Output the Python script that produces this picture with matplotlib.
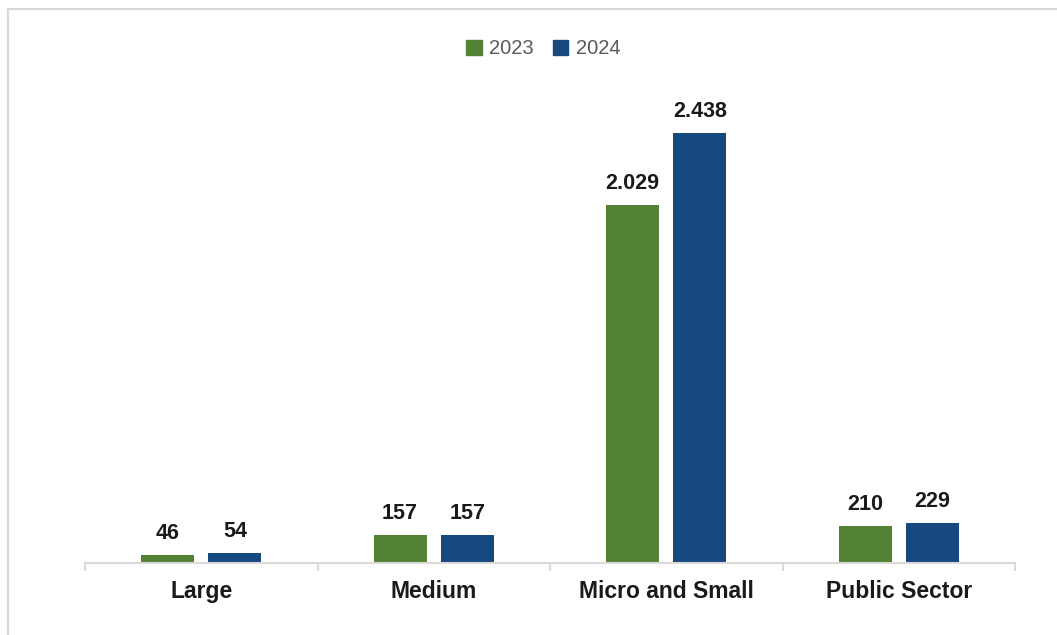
import matplotlib.pyplot as plt
from matplotlib.lines import Line2D
from matplotlib.patches import Patch
import numpy as np

plt.rcParams['font.family'] = ['Liberation Sans', 'DejaVu Sans']

categories = ["Large", "Medium", "Micro and Small", "Public Sector"]
years = ["2023", "2024"]
values_2023 = [46, 157, 2029, 210]
values_2024 = [54, 157, 2438, 229]

colors = ["#548235", "#16497E"]


def fmt(v):
    # thousands separator is a dot in the original
    return f"{v:,}".replace(",", ".")


W, H = 1057, 635
fig = plt.figure(figsize=(W / 100, H / 100), dpi=100)

# light frame round the chart (left and top edges visible)
fig.add_artist(Line2D([7.5 / W, 7.5 / W], [0, 1 - 9 / H], color="#d9d9d9", lw=1.5,
                      transform=fig.transFigure))
fig.add_artist(Line2D([7.5 / W, 1], [1 - 9 / H, 1 - 9 / H], color="#d9d9d9", lw=1.5,
                      transform=fig.transFigure))

ax = fig.add_axes([85 / W, (H - 563) / H, 930 / W, 476 / H])

x = np.arange(len(categories))
bw = 0.228
off = 0.145
b1 = ax.bar(x - off, values_2023, bw, color=colors[0], label=years[0])
b2 = ax.bar(x + off, values_2024, bw, color=colors[1], label=years[1])

for bars, vals in ((b1, values_2023), (b2, values_2024)):
    for bar, v in zip(bars, vals):
        ax.annotate(fmt(v), (bar.get_x() + bar.get_width() / 2, bar.get_height()),
                    xytext=(0, 8), textcoords="offset points", ha="center", va="bottom",
                    fontsize=15.5, fontweight="bold", color="#1a1a1a")

ax.set_xlim(-0.5, len(categories) - 0.5)
ax.set_ylim(0, 2700)

for s in ["top", "right", "left"]:
    ax.spines[s].set_visible(False)
ax.spines["bottom"].set_color("#d9d9d9")
ax.spines["bottom"].set_linewidth(1.5)
ax.set_yticks([])

ax.set_xticks(x)
ax.set_xticklabels(categories, fontsize=16.5, fontweight="bold", color="#1a1a1a")
ax.tick_params(axis="x", which="major", length=0, pad=12)
ax.set_xticks(np.arange(-0.5, len(categories)), minor=True)
ax.tick_params(axis="x", which="minor", length=6, width=1.5, color="#d9d9d9")

handles = [Patch(color=c, label=y) for c, y in zip(colors, years)]
leg = fig.legend(handles=handles, loc="center", bbox_to_anchor=(0.514, 0.923), ncol=2,
                 frameon=False, fontsize=14.5, handlelength=0.75, handleheight=0.75,
                 handletextpad=0.35, columnspacing=1.0)
for t in leg.get_texts():
    t.set_color("#595959")

fig.savefig("out.png", dpi=100)
